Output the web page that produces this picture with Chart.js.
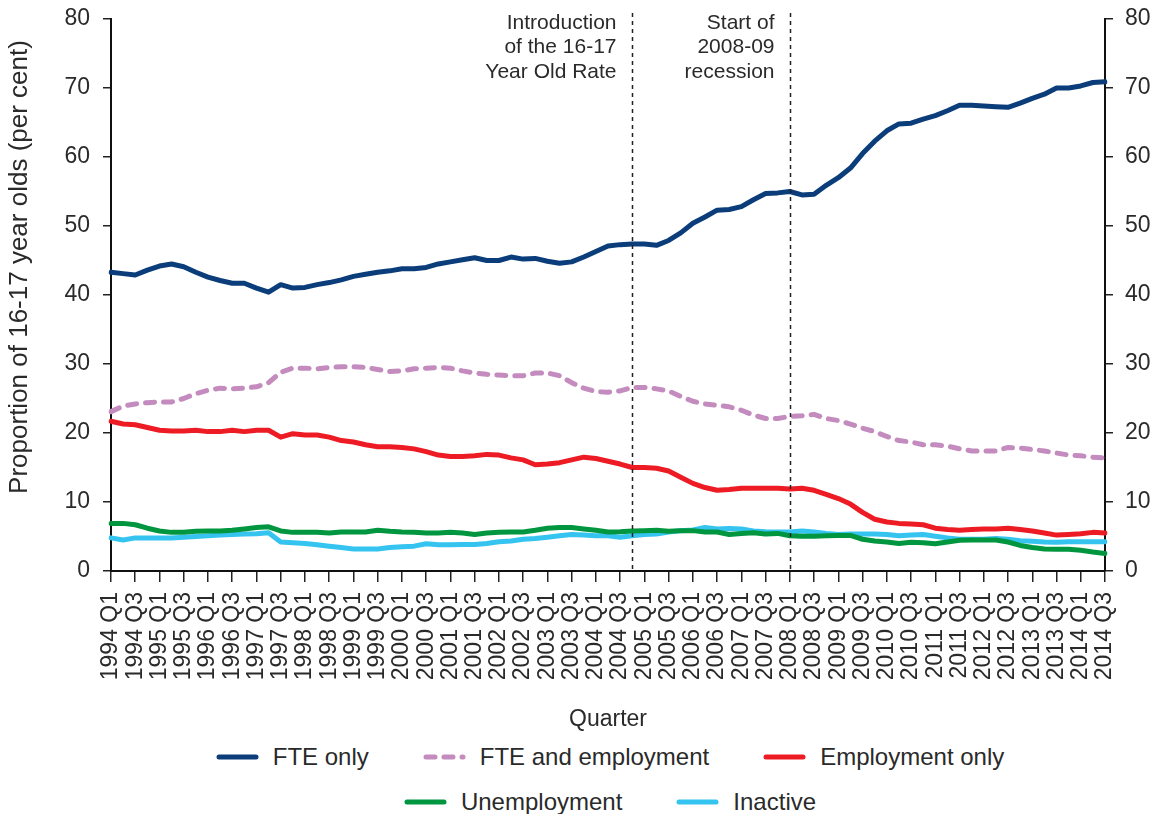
<!DOCTYPE html>
<html>
<head>
<meta charset="utf-8">
<script src="https://cdn.jsdelivr.net/npm/chart.js@4.4.1/dist/chart.umd.min.js"></script>
<style>
  html, body { margin: 0; padding: 0; background: #fff; overflow: hidden; }
  #wrap { position: relative; width: 1166px; height: 814px; }
  #chart { position: absolute; left: 0; top: 0; }
  #legend { position: absolute; left: 54px; right: 0; top: 734px; font-family: "Liberation Sans", Arial, sans-serif; font-size: 24px; color: #2a2a2a; }
  .row { display: flex; justify-content: center; align-items: center; height: 45px; gap: 54px; }
  .item { display: flex; align-items: center; gap: 14px; white-space: nowrap; }
  .item svg { display: block; }
</style>
</head>
<body>
<div id="wrap">
  <canvas id="chart" width="1166" height="734"></canvas>
  <div id="legend"></div>
</div>
<script>
// =============== Data ===============
const years = [1994, 1995, 1996, 1997, 1998, 1999, 2000, 2001, 2002, 2003, 2004,
               2005, 2006, 2007, 2008, 2009, 2010, 2011, 2012, 2013, 2014];
const quarters = [];
years.forEach((y) => {
  ['Q1', 'Q2', 'Q3', 'Q4'].forEach((q) => {
    if (y === 2014 && q === 'Q4') return;
    quarters.push(`${y} ${q}`);
  });
});

const fteOnly = [
  43.3, 43.1, 42.9, 43.6, 44.2, 44.5, 44.1, 43.3, 42.6, 42.1, 41.7, 41.7, 41.0, 40.4, 41.5, 41.0,
  41.1, 41.5, 41.8, 42.2, 42.7, 43.0, 43.3, 43.5, 43.8, 43.8, 44.0, 44.5, 44.8, 45.1, 45.4, 45.0,
  45.0, 45.5, 45.2, 45.3, 44.9, 44.6, 44.8, 45.5, 46.3, 47.1, 47.3, 47.4, 47.4, 47.2, 47.9, 49.0,
  50.4, 51.3, 52.3, 52.4, 52.8, 53.8, 54.7, 54.8, 55.0, 54.5, 54.6, 55.9, 57.0, 58.4, 60.5, 62.3,
  63.8, 64.8, 64.9, 65.5, 66.0, 66.7, 67.5, 67.5, 67.4, 67.3, 67.2, 67.8, 68.5, 69.1, 70.0, 70.0,
  70.3, 70.8, 70.9
];
const fteAndEmployment = [
  23.1, 23.9, 24.2, 24.4, 24.5, 24.5, 25.0, 25.7, 26.2, 26.5, 26.4, 26.5, 26.7, 27.3, 28.8, 29.4,
  29.4, 29.3, 29.5, 29.6, 29.6, 29.5, 29.2, 28.9, 29.0, 29.3, 29.4, 29.5, 29.4, 29.0, 28.7, 28.5,
  28.4, 28.3, 28.3, 28.7, 28.7, 28.3, 27.3, 26.5, 26.0, 25.9, 26.1, 26.6, 26.6, 26.4, 26.1, 25.3,
  24.6, 24.2, 24.0, 23.8, 23.3, 22.6, 22.1, 22.1, 22.4, 22.5, 22.7, 22.1, 21.8, 21.3, 20.7, 20.2,
  19.5, 18.9, 18.7, 18.3, 18.3, 18.1, 17.7, 17.4, 17.4, 17.4, 17.9, 17.8, 17.6, 17.4, 17.1, 16.8,
  16.7, 16.5, 16.4
];
const employmentOnly = [
  21.7, 21.3, 21.2, 20.8, 20.4, 20.3, 20.3, 20.4, 20.2, 20.2, 20.4, 20.2, 20.4, 20.4, 19.4, 19.9,
  19.7, 19.7, 19.4, 18.9, 18.7, 18.3, 18.0, 18.0, 17.9, 17.7, 17.3, 16.8, 16.6, 16.6, 16.7, 16.9,
  16.8, 16.4, 16.1, 15.4, 15.5, 15.7, 16.1, 16.5, 16.3, 15.9, 15.5, 15.0, 15.0, 14.9, 14.5, 13.6,
  12.7, 12.1, 11.7, 11.8, 12.0, 12.0, 12.0, 12.0, 11.9, 12.0, 11.7, 11.1, 10.5, 9.7, 8.5, 7.5,
  7.1, 6.9, 6.8, 6.7, 6.2, 6.0, 5.9, 6.0, 6.1, 6.1, 6.2, 6.0, 5.8, 5.5, 5.2, 5.3,
  5.4, 5.6, 5.5
];
const unemployment = [
  6.9, 6.9, 6.7, 6.2, 5.8, 5.6, 5.6, 5.75, 5.8, 5.8, 5.9, 6.1, 6.3, 6.4, 5.8, 5.6,
  5.6, 5.6, 5.5, 5.65, 5.65, 5.65, 5.9, 5.75, 5.65, 5.6, 5.5, 5.5, 5.6, 5.5, 5.3, 5.5,
  5.6, 5.65, 5.65, 5.9, 6.2, 6.3, 6.3, 6.1, 5.9, 5.65, 5.7, 5.8, 5.85, 5.9, 5.75, 5.85,
  5.85, 5.65, 5.65, 5.3, 5.45, 5.55, 5.35, 5.45, 5.1, 5.05, 5.05, 5.1, 5.15, 5.15, 4.6, 4.35,
  4.2, 4.0, 4.15, 4.1, 3.95, 4.2, 4.45, 4.5, 4.5, 4.5, 4.2, 3.7, 3.4, 3.2, 3.15, 3.15,
  3.0, 2.75, 2.55
];
const inactive = [
  4.8, 4.5, 4.8, 4.8, 4.8, 4.8, 4.9, 5.0, 5.1, 5.2, 5.3, 5.35, 5.4, 5.55, 4.2, 4.1,
  4.0, 3.8, 3.6, 3.4, 3.2, 3.2, 3.2, 3.4, 3.5, 3.6, 3.95, 3.8, 3.8, 3.85, 3.85, 4.0,
  4.25, 4.35, 4.6, 4.7, 4.9, 5.1, 5.3, 5.2, 5.1, 5.1, 4.9, 5.1, 5.3, 5.35, 5.65, 5.85,
  5.95, 6.3, 6.1, 6.15, 6.1, 5.8, 5.7, 5.65, 5.65, 5.8, 5.65, 5.45, 5.3, 5.35, 5.35, 5.35,
  5.3, 5.1, 5.2, 5.3, 5.05, 4.8, 4.6, 4.6, 4.6, 4.7, 4.6, 4.4, 4.3, 4.2, 4.15, 4.25,
  4.25, 4.25, 4.25
];

const seriesNames = ['FTE only', 'FTE and employment', 'Employment only', 'Unemployment', 'Inactive'];
const seriesColors = ['#0a3d79', '#c48bbf', '#ed1c24', '#009640', '#35c4f0'];
const legendRows = [[0, 1, 2], [3, 4]];

// Vertical event markers
const eventQuarters = ['2004 Q4', '2008 Q1'];
const eventLabels = [
  ['Introduction', 'of the 16-17', 'Year Old Rate'],
  ['Start of', '2008-09', 'recession'],
];

const yTicks = [0, 10, 20, 30, 40, 50, 60, 70, 80];
const yTitle = 'Proportion of 16-17 year olds (per cent)';

// =============== Helpers ===============
const FONT = '"Liberation Sans", Arial, sans-serif';
const TEXT = '#2a2a2a';

const annotationsPlugin = {
  id: 'annotations',
  afterDatasetsDraw(chart) {
    const { ctx, chartArea, scales } = chart;
    ctx.save();
    eventQuarters.forEach((q, k) => {
      const px = Math.round(scales.x.getPixelForValue(quarters.indexOf(q))) + 0.5;
      ctx.beginPath();
      ctx.setLineDash([4, 4]);
      ctx.lineWidth = 1.5;
      ctx.strokeStyle = '#222';
      ctx.moveTo(px, chartArea.top - 6);
      ctx.lineTo(px, chartArea.bottom);
      ctx.stroke();
      ctx.setLineDash([]);
      ctx.font = `21px ${FONT}`;
      ctx.fillStyle = TEXT;
      ctx.textAlign = 'right';
      ctx.textBaseline = 'middle';
      eventLabels[k].forEach((line, j) => {
        ctx.fillText(line, px - 16, chartArea.top + 4 + j * 24.5);
      });
    });

    // y axis title, sits a little above the plot centre like the original
    ctx.translate(20, (chartArea.top + chartArea.bottom) / 2 - 28);
    ctx.rotate(-Math.PI / 2);
    ctx.font = `26px ${FONT}`;
    ctx.fillStyle = TEXT;
    ctx.textAlign = 'center';
    ctx.textBaseline = 'middle';
    ctx.fillText(yTitle, 0, 0);
    ctx.restore();
  },
};

function buildLegend(chart) {
  const box = document.getElementById('legend');
  box.innerHTML = '';
  legendRows.forEach((row) => {
    const rowEl = document.createElement('div');
    rowEl.className = 'row';
    row.forEach((i) => {
      const ds = chart.data.datasets[i];
      const item = document.createElement('div');
      item.className = 'item';
      const dash = ds.borderDash && ds.borderDash.length ? `stroke-dasharray="${ds.borderDash.join(' ')}"` : '';
      item.innerHTML =
        `<svg width="43" height="10"><line x1="3" y1="5" x2="40" y2="5" stroke="${ds.borderColor}" ` +
        `stroke-width="5" stroke-linecap="round" ${dash}/></svg><span>${ds.label}</span>`;
      rowEl.appendChild(item);
    });
    box.appendChild(rowEl);
  });
}

// =============== Chart ===============
const seriesData = [fteOnly, fteAndEmployment, employmentOnly, unemployment, inactive];

const datasets = seriesData.map((data, i) => ({
  label: seriesNames[i],
  data,
  borderColor: seriesColors[i],
  backgroundColor: seriesColors[i],
  borderWidth: 5,
  borderDash: i === 1 ? [9, 9] : [],
  borderCapStyle: 'round',
  borderJoinStyle: 'round',
  pointRadius: 0,
  tension: 0,
  fill: false,
}));

// fixed axis widths, and no extra top/bottom room for the end labels
function fitY(width) {
  return (scale) => {
    scale.width = width;
    scale.paddingTop = 0;
    scale.paddingBottom = 0;
  };
}

const yAxisBase = {
  type: 'linear',
  min: 0,
  max: 80,
  afterBuildTicks: (scale) => { scale.ticks = yTicks.map((v) => ({ value: v })); },
  grid: { drawOnChartArea: false, drawTicks: true, tickLength: 8, color: '#222', lineWidth: 1.5 },
  border: { display: true, color: '#111', width: 2 },
};

const chart = new Chart(document.getElementById('chart'), {
  type: 'line',
  data: { labels: quarters, datasets },
  options: {
    responsive: false,
    animation: false,
    layout: { padding: { top: 19, right: 0, bottom: 0, left: 0 } },
    plugins: {
      legend: { display: false },
      tooltip: { enabled: false },
    },
    scales: {
      x: {
        type: 'category',
        offset: false,
        afterFit: (scale) => { scale.height = 163; },
        grid: { drawOnChartArea: false, drawTicks: true, tickLength: 11, color: '#222', lineWidth: 1.5, offset: false },
        border: { display: true, color: '#111', width: 2 },
        ticks: {
          autoSkip: false,
          minRotation: 90,
          maxRotation: 90,
          padding: 10,
          font: { family: FONT, size: 23 },
          color: TEXT,
          callback: (val, i) => (i % 2 === 0 ? quarters[i] : null),
        },
        title: {
          display: true,
          text: 'Quarter',
          font: { family: FONT, size: 23 },
          color: TEXT,
          padding: { top: 0, bottom: 1 },
        },
      },
      y: {
        ...yAxisBase,
        position: 'left',
        afterFit: fitY(111),
        ticks: { font: { family: FONT, size: 23 }, color: TEXT, padding: 13 },
      },
      y2: {
        ...yAxisBase,
        position: 'right',
        afterFit: fitY(61),
        ticks: { font: { family: FONT, size: 23 }, color: TEXT, padding: 12 },
      },
    },
  },
  plugins: [annotationsPlugin],
});

buildLegend(chart);
</script>
</body>
</html>
